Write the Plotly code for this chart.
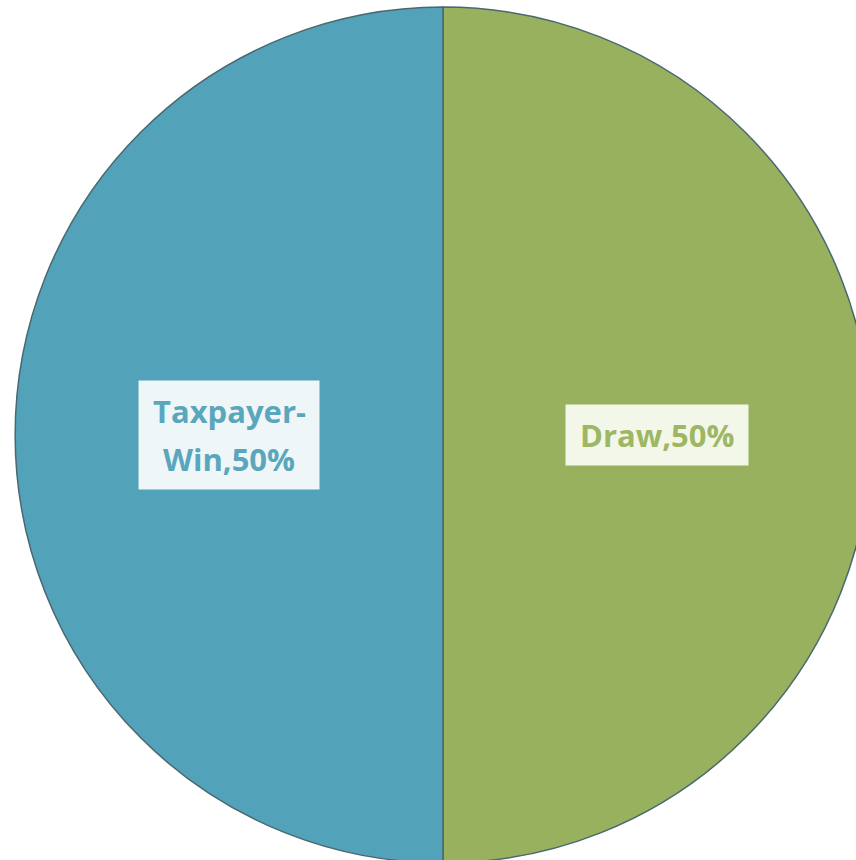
import math
import plotly.graph_objects as go

labels = ["Draw", "Taxpayer-Win"]
values = [50, 50]
colors = ["#98b15f", "#52a3b9"]
text_colors = ["#9db764", "#5aa7bd"]
box_colors = ["#f3f7ea", "#eef6f8"]
label_lines = [["Draw,50%"], ["Taxpayer-", "Win,50%"]]
box_sizes = [(182, 60), (180, 108)]

W, H = 872, 864
cx, cy, R = 443, 435, 428

fig = go.Figure(go.Pie(
    labels=labels, values=values, sort=False, direction="clockwise", rotation=0,
    marker=dict(colors=colors, line=dict(color="#4a6870", width=1.5)),
    textinfo="none", hoverinfo="label+percent",
    domain=dict(x=[(cx - R) / W, (cx + R) / W], y=[(H - cy - R) / H, (H - cy + R) / H]),
    showlegend=False,
))

total = sum(values)
cum = 0
annotations = []
for i, v in enumerate(values):
    mid = (cum + v / 2) / total * 2 * math.pi
    cum += v
    # clockwise from 12 o'clock
    px = cx + 0.5 * R * math.sin(mid)
    py = cy - 0.5 * R * math.cos(mid)
    bw, bh = box_sizes[i]
    annotations.append(dict(x=px / W, y=1 - py / H, xref="paper", yref="paper", text=" ",
                            showarrow=False, width=bw, height=bh, bgcolor=box_colors[i],
                            xanchor="center", yanchor="middle", borderpad=0))
    lines = label_lines[i]
    n = len(lines)
    for j, t in enumerate(lines):
        ly = py + (j - (n - 1) / 2) * 48
        annotations.append(dict(x=px / W, y=1 - ly / H, xref="paper", yref="paper", text="<b>" + t + "</b>",
                                showarrow=False, xanchor="center", yanchor="middle",
                                font=dict(family="Open Sans", size=31, color=text_colors[i])))

fig.update_layout(width=W, height=H, margin=dict(l=0, r=0, t=0, b=0),
                  paper_bgcolor="white", plot_bgcolor="white", annotations=annotations)

fig.write_html("out.html", post_script="document.body.style.margin='0';document.body.style.overflow='hidden';document.documentElement.style.overflow='hidden';")
